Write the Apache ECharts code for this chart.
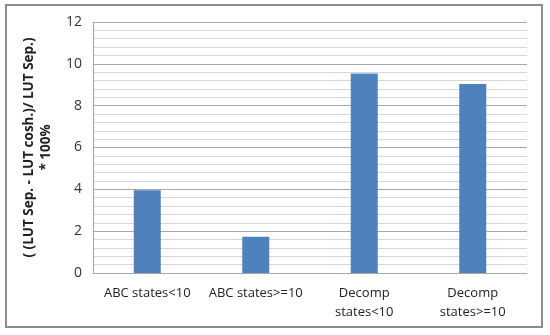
<!DOCTYPE html>
<html>
<head>
<meta charset="utf-8">
<script src="https://cdn.jsdelivr.net/npm/echarts@6/dist/echarts.min.js"></script>
<style>
    html, body { margin: 0; padding: 0; background: #fff; }
    #chart { width: 550px; height: 335px; }
</style>
</head>
<body>
<div id="chart"></div>
<script>
var categories = ['ABC states<10', 'ABC states>=10', 'Decomp\nstates<10', 'Decomp\nstates>=10'];
var values = [3.96, 1.73, 9.54, 9.03];
var yTicks = [0, 2, 4, 6, 8, 10, 12];
var yTitle = '( (LUT Sep. - LUT cosh.)/ LUT Sep.)\n* 100%';

var myChart = echarts.init(document.getElementById('chart'));
var option = {
    animation: false,
    textStyle: {
        fontFamily: 'Open Sans'
    },
    // 外框
    graphic: [{
        type: 'rect',
        shape: { x: 6, y: 5, width: 536, height: 322 },
        style: { fill: 'none', stroke: '#8c8c8c', lineWidth: 2 },
        silent: true
    }],
    grid: {
        left: 93,
        right: 23,
        top: 22,
        bottom: 62
    },
    xAxis: [{
        type: 'category',
        data: categories,
        axisLine: {
            lineStyle: { color: '#a6a6a6', width: 1 }
        },
        axisTick: { show: false },
        axisLabel: {
            color: '#222',
            fontSize: 13,
            lineHeight: 19,
            margin: 11,
            interval: 0
        }
    }],
    yAxis: [{
        type: 'value',
        min: yTicks[0],
        max: yTicks[yTicks.length - 1],
        interval: 2,
        name: yTitle,
        nameLocation: 'middle',
        nameGap: 34,
        nameTextStyle: {
            color: '#222',
            fontSize: 13.5,
            fontWeight: 'bold',
            lineHeight: 17
        },
        axisLine: {
            show: true,
            lineStyle: { color: '#a6a6a6', width: 1 }
        },
        axisTick: { show: false },
        axisLabel: {
            color: '#333',
            fontSize: 14,
            margin: 11
        },
        splitLine: {
            lineStyle: { color: '#a8a8a8', width: 1 }
        },
        minorTick: { show: false, splitNumber: 5 },
        minorSplitLine: {
            show: true,
            lineStyle: { color: '#d6d6d6', width: 1 }
        }
    }],
    series: [{
        type: 'bar',
        data: values,
        barWidth: 27,
        itemStyle: {
            color: '#4f81bd'
        }
    }]
};
myChart.setOption(option);
</script>
</body>
</html>
